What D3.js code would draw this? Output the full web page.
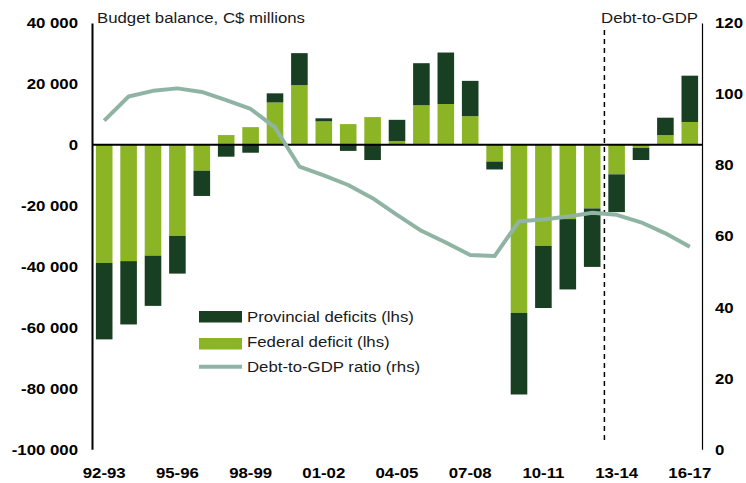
<!DOCTYPE html>
<html>
<head>
<meta charset="utf-8">
<script src="https://cdn.jsdelivr.net/npm/d3@7"></script>
<style>
  html, body { margin: 0; padding: 0; background: #ffffff; }
  svg { display: block; font-family: "Liberation Sans", Arial, sans-serif; }
</style>
</head>
<body>
<svg id="chart" width="746" height="483"></svg>
<script>
// Fiscal years
const years = ["92-93","93-94","94-95","95-96","96-97","97-98","98-99","99-00","00-01","01-02",
  "02-03","03-04","04-05","05-06","06-07","07-08","08-09","09-10","10-11","11-12",
  "12-13","13-14","14-15","15-16","16-17"];

// Federal budget balance, C$ millions (lhs)
const federal = [-38800, -38200, -36400, -29900, -8500, 3200, 5800, 13900, 19600, 7700,
  6800, 9100, 1200, 13000, 13400, 9400, -5500, -55200, -33200, -24400,
  -20900, -9700, -1000, 3200, 7500];

// Provincial budget balances, C$ millions (lhs)
const provincial = [-25100, -20800, -16500, -12400, -8300, -3900, -2600, 3000, 10500, 1000,
  -2000, -5000, 7000, 13800, 16900, 11600, -2600, -26800, -20400, -23100,
  -19200, -12400, -4000, 5700, 15200];

// Debt-to-GDP ratio, % (rhs)
const debtRatio = [92.5, 99.3, 100.9, 101.6, 100.6, 98.3, 95.8, 90.6, 79.6, 77.1,
  74.4, 70.7, 66.0, 61.5, 58.2, 54.7, 54.4, 64.2, 64.7, 65.5,
  66.6, 66.0, 63.9, 60.8, 57.0];

const xTickLabels = ["92-93","95-96","98-99","01-02","04-05","07-08","10-11","13-14","16-17"];
const leftTicks = [40000, 20000, 0, -20000, -40000, -60000, -80000, -100000];
const rightTicks = [0, 20, 40, 60, 80, 100, 120];
const forecastStart = "13-14";

const legendItems = ["Provincial deficits (lhs)", "Federal deficit (lhs)", "Debt-to-GDP ratio (rhs)"];

const C = { prov: "#193f23", fed: "#8cb526", line: "#90b4a4", ink: "#000000", text: "#1a1a1a" };
const SX = 1.12; // horizontal text stretch

const svg = d3.select("#chart");
const L = 92, R = 702, T = 23, B = 449.3;

const x = d3.scaleBand().domain(years).range([L, R]).paddingInner(0.32).paddingOuter(0.16);
const yL = d3.scaleLinear().domain([-100000, 40000]).range([B, T]);
const yR = d3.scaleLinear().domain([0, 120]).range([B, T]);

const fmt = d3.formatLocale({ decimal: ".", thousands: " ", grouping: [3], currency: ["", ""], minus: "-" }).format(",");

function stretchTexts(sel) {
  sel.selectAll("text").each(function () {
    const t = d3.select(this);
    const tx = +t.attr("x") || 0;
    t.attr("x", 0).attr("transform", `translate(${tx},0) scale(${SX},1)`);
  });
}

// Bars: federal from zero, provincial stacked on federal when same sign, else from zero
const rows = years.map((yr, i) => {
  const f = federal[i], p = provincial[i];
  const base = (Math.sign(f) === Math.sign(p)) ? f : 0;
  return { yr, f, p, base };
});

const bars = svg.append("g");
bars.selectAll("rect.fed").data(rows).join("rect")
  .attr("class", "fed")
  .attr("x", d => x(d.yr)).attr("width", x.bandwidth())
  .attr("y", d => yL(Math.max(0, d.f))).attr("height", d => Math.abs(yL(d.f) - yL(0)))
  .attr("fill", C.fed);
bars.selectAll("rect.prov").data(rows).join("rect")
  .attr("class", "prov")
  .attr("x", d => x(d.yr)).attr("width", x.bandwidth())
  .attr("y", d => Math.min(yL(d.base), yL(d.base + d.p)))
  .attr("height", d => Math.abs(yL(d.base + d.p) - yL(d.base)))
  .attr("fill", C.prov);

// Zero line
svg.append("line").attr("x1", L).attr("x2", R).attr("y1", yL(0)).attr("y2", yL(0))
  .attr("stroke", C.ink).attr("stroke-width", 2);

// Forecast divider
const xDiv = x(forecastStart) - x.step() * x.paddingInner() / 2;
svg.append("line").attr("x1", xDiv).attr("x2", xDiv).attr("y1", 30).attr("y2", 440)
  .attr("stroke", C.ink).attr("stroke-width", 1.5).attr("stroke-dasharray", "5,4");

// Debt-to-GDP line
const line = d3.line().x((d, i) => x(years[i]) + x.bandwidth() / 2).y(d => yR(d));
svg.append("path").datum(debtRatio).attr("d", line)
  .attr("fill", "none").attr("stroke", C.line).attr("stroke-width", 4).attr("stroke-linejoin", "round");

// Left axis
const gL = svg.append("g").attr("transform", `translate(${L},0)`)
  .call(d3.axisLeft(yL).tickValues(leftTicks).tickFormat(fmt).tickSize(0).tickSizeOuter(0).tickPadding(14));
gL.select(".domain").attr("stroke", C.ink).attr("stroke-width", 2);
gL.selectAll("text").attr("font-size", 15).attr("font-weight", "bold").attr("fill", C.ink)
  .attr("font-family", "'Liberation Sans', Arial, sans-serif");
stretchTexts(gL);

// Right axis
const gR = svg.append("g").attr("transform", `translate(${R},0)`)
  .call(d3.axisRight(yR).tickValues(rightTicks).tickSize(0).tickSizeOuter(0).tickPadding(13));
gR.select(".domain").attr("stroke", C.ink).attr("stroke-width", 1.2);
gR.selectAll("text").attr("font-size", 15).attr("font-weight", "bold").attr("fill", C.ink)
  .attr("font-family", "'Liberation Sans', Arial, sans-serif");
stretchTexts(gR);

// Bottom axis (labels only)
const gB = svg.append("g").attr("transform", `translate(0,${B})`)
  .call(d3.axisBottom(x).tickValues(xTickLabels).tickSize(0).tickSizeOuter(0).tickPadding(18));
gB.select(".domain").remove();
gB.selectAll("text").attr("font-size", 15).attr("font-weight", "bold").attr("fill", C.ink)
  .attr("font-family", "'Liberation Sans', Arial, sans-serif");
stretchTexts(gB);

// Titles
svg.append("text").attr("transform", `translate(97,22.5) scale(${SX},1)`)
  .attr("font-size", 15).attr("fill", C.text).text("Budget balance, C$ millions");
svg.append("text").attr("transform", `translate(698,22.5) scale(${SX},1)`)
  .attr("text-anchor", "end").attr("font-size", 15).attr("fill", C.text).text("Debt-to-GDP");

// Legend
const lg = svg.append("g").attr("transform", "translate(193,303)");
lg.append("rect").attr("width", 238).attr("height", 78).attr("fill", "#ffffff");
const swX = 6, swW = 43, txX = 54;
lg.append("rect").attr("x", swX).attr("y", 8).attr("width", swW).attr("height", 11.5).attr("fill", C.prov);
lg.append("rect").attr("x", swX).attr("y", 35).attr("width", swW).attr("height", 11.5).attr("fill", C.fed);
lg.append("line").attr("x1", swX).attr("x2", swX + swW).attr("y1", 63.7).attr("y2", 63.7)
  .attr("stroke", C.line).attr("stroke-width", 4);
legendItems.forEach((t, i) => {
  lg.append("text").attr("transform", `translate(${txX},${19.3 + i * 25}) scale(${SX},1)`)
    .attr("font-size", 15).attr("fill", C.text).text(t);
});
</script>
</body>
</html>
